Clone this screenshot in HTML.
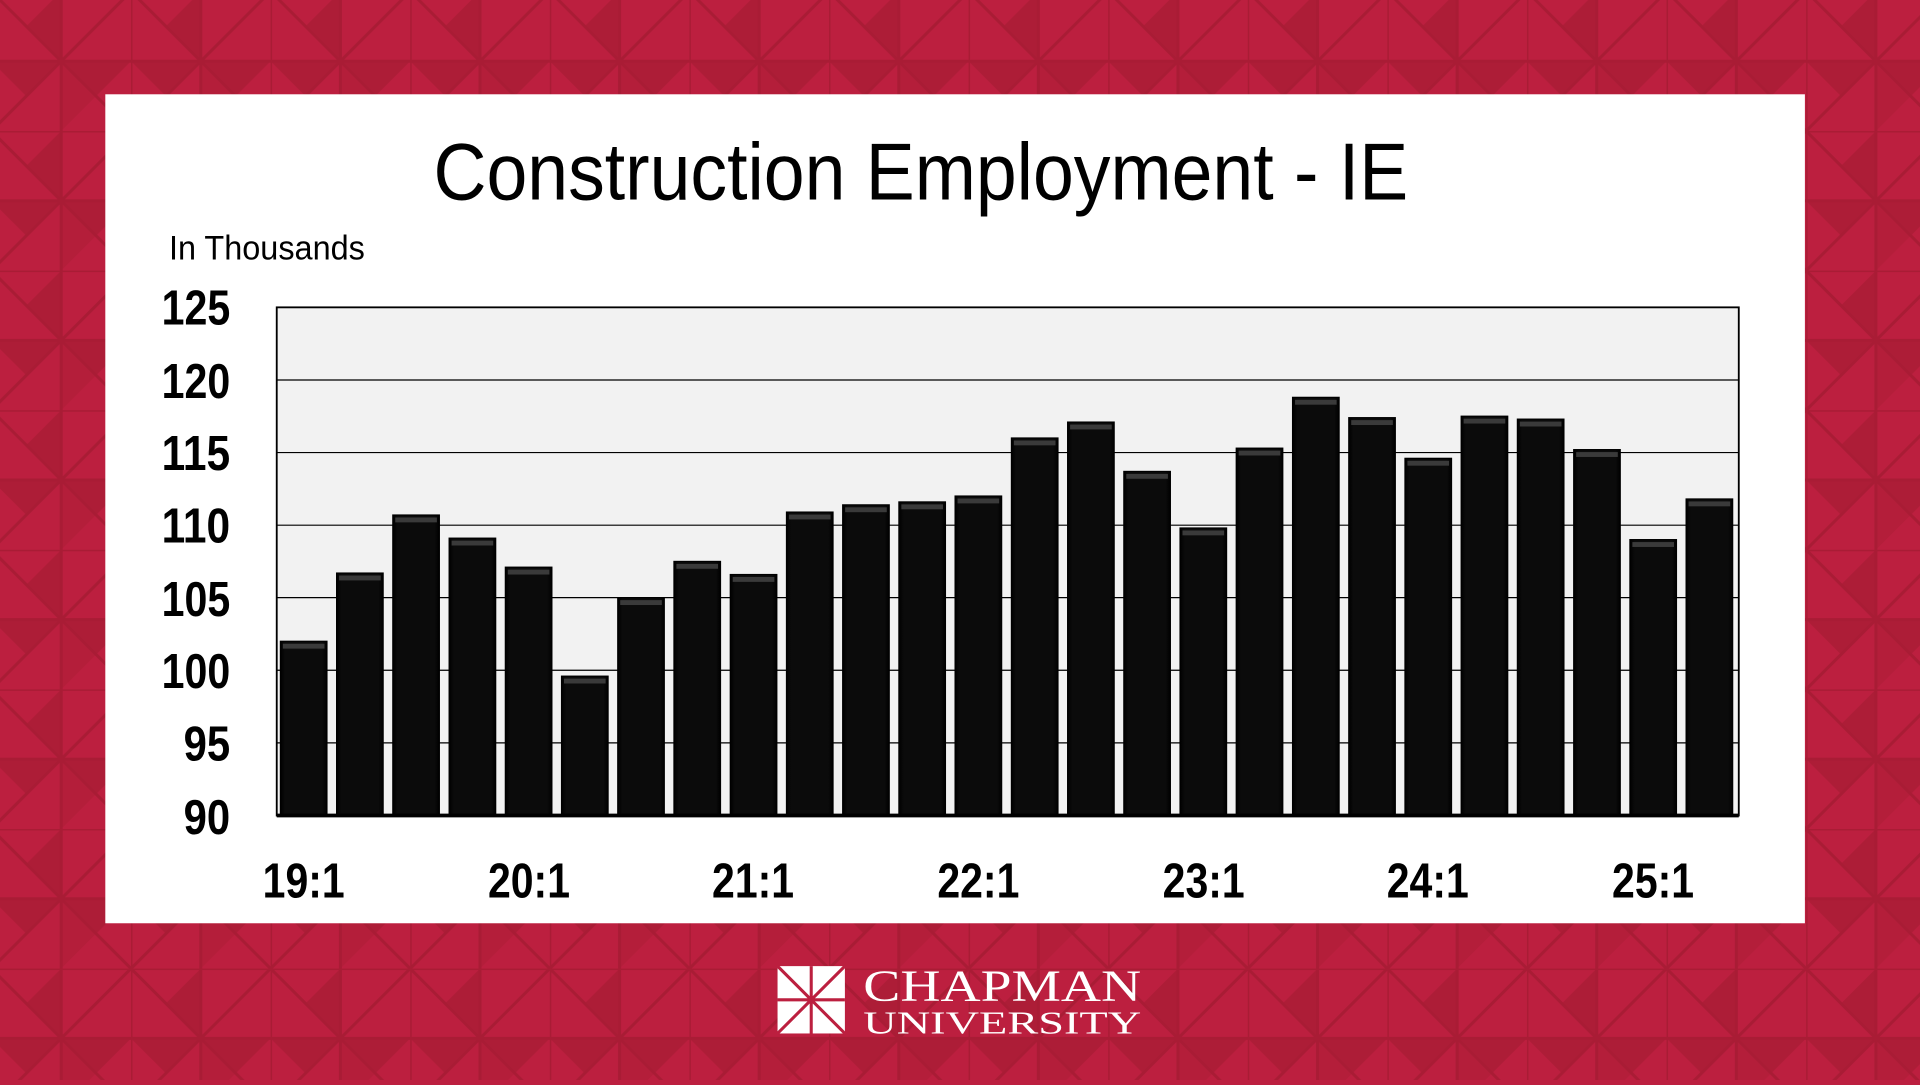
<!DOCTYPE html>
<html><head><meta charset="utf-8"><style>html,body{margin:0;padding:0;overflow:hidden;background:#bc1f3f}</style></head>
<body>
<svg width="1920" height="1080" viewBox="0 0 1568 882" xmlns="http://www.w3.org/2000/svg">
<defs>
<pattern id="bg" width="114" height="114" patternUnits="userSpaceOnUse" x="-7" y="-7">
<rect width="114" height="114" fill="#bc1f3f"/>
<polygon points="57,0 57,57 28.5,28.5" fill="#ad1d37"/>
<polygon points="0,57 57,57 28.5,85.5" fill="#ad1d37"/>
<polygon points="57,57 114,57 85.5,85.5" fill="#ad1d37"/>
<polygon points="57,57 57,114 85.5,85.5" fill="#b41e3a"/>
<g stroke="#a91c35" stroke-width="2.5" fill="none">
<path d="M0 0L114 114M114 0L0 114M57 0V114M0 57H114M0 0H114M0 0V114"/>
</g>
</pattern>
<linearGradient id="bar" x1="0" x2="1" y1="0" y2="0">
<stop offset="0" stop-color="#000"/><stop offset="0.1" stop-color="#0b0b0b"/><stop offset="0.9" stop-color="#0b0b0b"/><stop offset="1" stop-color="#000"/>
</linearGradient>
</defs>
<rect width="1568" height="882" fill="url(#bg)"/>
<rect x="86" y="77" width="1388" height="677" fill="#fff"/>
<text x="752" y="163" text-anchor="middle" font-family="Liberation Sans, sans-serif" font-size="66" textLength="796" lengthAdjust="spacingAndGlyphs">Construction Employment - IE</text>
<text x="138" y="212" font-family="Liberation Sans, sans-serif" font-size="28" textLength="160" lengthAdjust="spacingAndGlyphs">In Thousands</text>
<rect x="226" y="251" width="1194" height="415" fill="#f2f2f2" stroke="#000" stroke-width="1.5"/>
<g stroke="#000" stroke-width="1">
<line x1="226" x2="1420" y1="310.3" y2="310.3"/><line x1="226" x2="1420" y1="369.6" y2="369.6"/>
<line x1="226" x2="1420" y1="428.9" y2="428.9"/><line x1="226" x2="1420" y1="488.1" y2="488.1"/>
<line x1="226" x2="1420" y1="547.4" y2="547.4"/><line x1="226" x2="1420" y1="606.7" y2="606.7"/>
</g>
<g font-family="Liberation Sans, sans-serif" font-size="40" font-weight="bold" text-anchor="end" lengthAdjust="spacingAndGlyphs">
<text x="188" y="265" textLength="56" lengthAdjust="spacingAndGlyphs">125</text><text x="188" y="325" textLength="56" lengthAdjust="spacingAndGlyphs">120</text><text x="188" y="384" textLength="56" lengthAdjust="spacingAndGlyphs">115</text>
<text x="188" y="443" textLength="56" lengthAdjust="spacingAndGlyphs">110</text><text x="188" y="503" textLength="56" lengthAdjust="spacingAndGlyphs">105</text><text x="188" y="562" textLength="56" lengthAdjust="spacingAndGlyphs">100</text>
<text x="188" y="621" textLength="38" lengthAdjust="spacingAndGlyphs">95</text><text x="188" y="681" textLength="38" lengthAdjust="spacingAndGlyphs">90</text>
</g>
<g fill="url(#bar)" stroke="#000" stroke-width="1">
<rect x="229" y="523.7" width="38" height="142.3"/>
<rect x="274.9" y="468" width="38" height="198"/>
<rect x="320.8" y="420.6" width="38" height="245.4"/>
<rect x="366.8" y="439.5" width="38" height="226.5"/>
<rect x="412.7" y="463.2" width="38" height="202.8"/>
<rect x="458.6" y="552.2" width="38" height="113.8"/>
<rect x="504.5" y="488.1" width="38" height="177.9"/>
<rect x="550.4" y="458.5" width="38" height="207.5"/>
<rect x="596.4" y="469.2" width="38" height="196.8"/>
<rect x="642.3" y="418.2" width="38" height="247.8"/>
<rect x="688.2" y="412.3" width="38" height="253.7"/>
<rect x="734.1" y="409.9" width="38" height="256.1"/>
<rect x="780" y="405.1" width="38" height="260.9"/>
<rect x="826" y="357.7" width="38" height="308.3"/>
<rect x="871.9" y="344.7" width="38" height="321.3"/>
<rect x="917.8" y="385" width="38" height="281"/>
<rect x="963.7" y="431.2" width="38" height="234.8"/>
<rect x="1009.6" y="366" width="38" height="300"/>
<rect x="1055.6" y="324.5" width="38" height="341.5"/>
<rect x="1101.5" y="341.1" width="38" height="324.9"/>
<rect x="1147.4" y="374.3" width="38" height="291.7"/>
<rect x="1193.3" y="339.9" width="38" height="326.1"/>
<rect x="1239.2" y="342.3" width="38" height="323.7"/>
<rect x="1285.2" y="367.2" width="38" height="298.8"/>
<rect x="1331.1" y="440.7" width="38" height="225.3"/>
<rect x="1377" y="407.5" width="38" height="258.5"/>
</g>
<g fill="#3a3a3a">
<rect x="231" y="525.7" width="34" height="4"/>
<rect x="276.9" y="470" width="34" height="4"/>
<rect x="322.8" y="422.6" width="34" height="4"/>
<rect x="368.8" y="441.5" width="34" height="4"/>
<rect x="414.7" y="465.2" width="34" height="4"/>
<rect x="460.6" y="554.2" width="34" height="4"/>
<rect x="506.5" y="490.1" width="34" height="4"/>
<rect x="552.4" y="460.5" width="34" height="4"/>
<rect x="598.4" y="471.2" width="34" height="4"/>
<rect x="644.3" y="420.2" width="34" height="4"/>
<rect x="690.2" y="414.3" width="34" height="4"/>
<rect x="736.1" y="411.9" width="34" height="4"/>
<rect x="782" y="407.1" width="34" height="4"/>
<rect x="828" y="359.7" width="34" height="4"/>
<rect x="873.9" y="346.7" width="34" height="4"/>
<rect x="919.8" y="387" width="34" height="4"/>
<rect x="965.7" y="433.2" width="34" height="4"/>
<rect x="1011.6" y="368" width="34" height="4"/>
<rect x="1057.6" y="326.5" width="34" height="4"/>
<rect x="1103.5" y="343.1" width="34" height="4"/>
<rect x="1149.4" y="376.3" width="34" height="4"/>
<rect x="1195.3" y="341.9" width="34" height="4"/>
<rect x="1241.2" y="344.3" width="34" height="4"/>
<rect x="1287.2" y="369.2" width="34" height="4"/>
<rect x="1333.1" y="442.7" width="34" height="4"/>
<rect x="1379" y="409.5" width="34" height="4"/>
</g>
<line x1="226" x2="1420" y1="666" y2="666" stroke="#000" stroke-width="3"/>
<g font-family="Liberation Sans, sans-serif" font-size="40" font-weight="bold" text-anchor="middle">
<text x="248" y="733" textLength="67" lengthAdjust="spacingAndGlyphs">19:1</text><text x="432" y="733" textLength="67" lengthAdjust="spacingAndGlyphs">20:1</text><text x="615" y="733" textLength="67" lengthAdjust="spacingAndGlyphs">21:1</text>
<text x="799" y="733" textLength="67" lengthAdjust="spacingAndGlyphs">22:1</text><text x="983" y="733" textLength="67" lengthAdjust="spacingAndGlyphs">23:1</text><text x="1166" y="733" textLength="67" lengthAdjust="spacingAndGlyphs">24:1</text><text x="1350" y="733" textLength="67" lengthAdjust="spacingAndGlyphs">25:1</text>
</g>
<g>
<rect x="635" y="789" width="55" height="55" fill="#fff"/>
<g stroke="#bc1f3f" stroke-width="2.5"><path d="M635 789L690 844M690 789L635 844M662.5 789V844M635 816.5H690"/></g>
<text x="705" y="817" font-family="Liberation Serif, serif" font-size="36" fill="#fff" textLength="227" lengthAdjust="spacingAndGlyphs">CHAPMAN</text>
<text x="705" y="844" font-family="Liberation Serif, serif" font-size="26" fill="#fff" textLength="227" lengthAdjust="spacingAndGlyphs">UNIVERSITY</text>
</g>
</svg>
</body></html>
